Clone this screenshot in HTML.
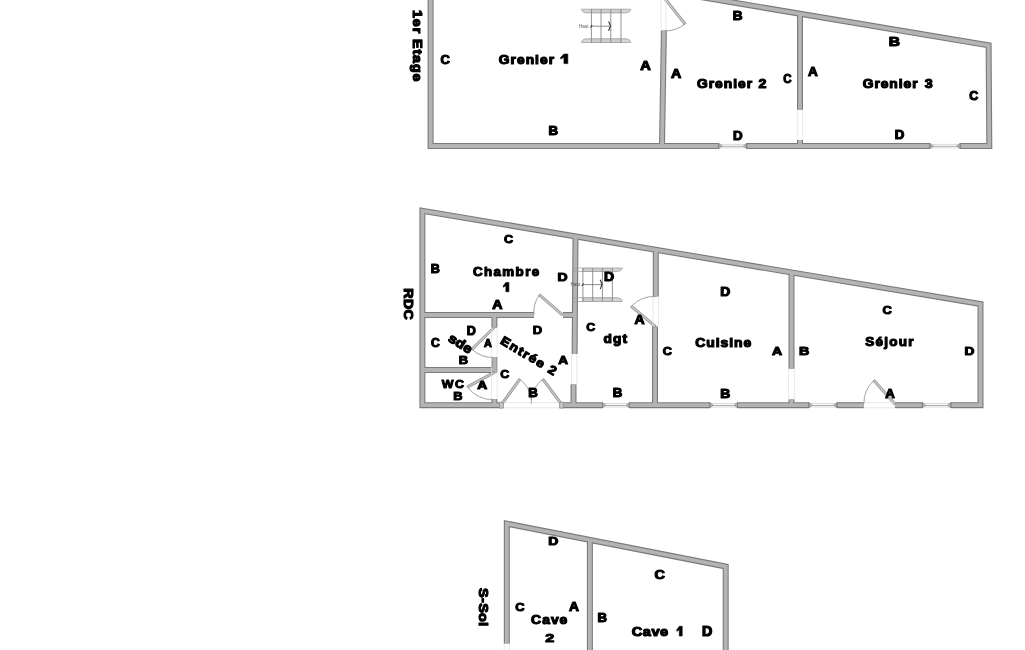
<!DOCTYPE html>
<html><head><meta charset="utf-8"><style>
html,body{margin:0;padding:0;background:#fff;width:1025px;height:650px;overflow:hidden}
svg{display:block;will-change:transform}
.wd polyline{fill:none;stroke:#7a7a7a;stroke-width:6.0;stroke-linejoin:miter;stroke-linecap:butt}
.wf polyline{fill:none;stroke:#b4b4b4;stroke-width:3.8;stroke-linejoin:miter;stroke-linecap:butt}
.lbl text{font-family:"Liberation Sans",sans-serif;font-weight:bold;font-size:100px;fill:#000;stroke:#000;stroke-width:9.0;stroke-linejoin:round}
.wl{stroke:#c8c8c8;stroke-width:0.7}
.wl2{stroke:#9a9a9a;stroke-width:0.8}
.tip{fill:#b9b9b9;stroke:#8e8e8e;stroke-width:0.8}
.capl{stroke:#7a7a7a;stroke-width:0.9}
.leaf{fill:#c4c4c4;stroke:#8a8a8a;stroke-width:0.8}
.arc{fill:none;stroke:#999;stroke-width:0.9}
.frame{stroke:#dedede;stroke-width:0.7}
.cap{fill:#c4c4c4;stroke:#8a8a8a;stroke-width:0.7}
.rail{fill:#cdcdcd;stroke:#999;stroke-width:0.8}
.flare{fill:#d6d6d6;stroke:#a0a0a0;stroke-width:0.8}
.arrow{stroke:#707070;stroke-width:0.8}
.arrowh{fill:none;stroke:#333;stroke-width:1.1}
.step{fill:none;stroke:#888;stroke-width:0.9}
.tiny{font-family:"Liberation Sans",sans-serif;font-size:4.5px;fill:#555}
</style></head><body>
<svg width="1025" height="650" viewBox="0 0 1025 650">
<rect width="1025" height="650" fill="#fff"/>
<g>
<g class="wd">
<polyline points="430.60,-10.00 430.60,146.00 718.70,146.00"/>
<polyline points="746.80,146.00 929.80,146.00"/>
<polyline points="960.20,146.00 989.30,146.00 988.60,45.40 650.00,-11.48"/>
<polyline points="663.90,30.50 662.00,146.00"/>
<polyline points="800.00,13.72 800.00,109.70"/>
<polyline points="800.00,140.00 800.00,146.00"/>
<polyline points="502.00,405.20 422.40,405.20 422.40,210.80 980.50,304.00 980.50,405.20 950.90,405.20"/>
<polyline points="922.30,405.20 894.90,405.20"/>
<polyline points="863.90,405.20 837.10,405.20"/>
<polyline points="808.80,405.20 737.50,405.20"/>
<polyline points="709.80,405.20 629.40,405.20"/>
<polyline points="602.50,405.20 561.30,405.20"/>
<polyline points="422.40,315.00 534.00,315.00"/>
<polyline points="563.00,315.00 575.50,315.00"/>
<polyline points="422.40,370.00 494.40,370.00"/>
<polyline points="494.40,315.00 494.40,327.70"/>
<polyline points="494.40,357.00 494.40,372.50"/>
<polyline points="494.40,399.00 494.40,405.20"/>
<polyline points="575.50,236.37 574.60,354.00"/>
<polyline points="573.50,384.40 573.50,405.20"/>
<polyline points="655.80,249.78 655.80,296.50"/>
<polyline points="655.00,326.50 655.00,405.20"/>
<polyline points="791.50,272.44 791.50,368.70"/>
<polyline points="791.50,399.40 791.50,405.20"/>
<polyline points="506.80,643.50 506.80,523.60 725.70,566.50 725.70,660.00"/>
<polyline points="589.90,539.89 589.90,660.00"/>
</g>
<g class="wf">
<polyline points="430.60,-10.00 430.60,146.00 718.70,146.00"/>
<polyline points="746.80,146.00 929.80,146.00"/>
<polyline points="960.20,146.00 989.30,146.00 988.60,45.40 650.00,-11.48"/>
<polyline points="663.90,30.50 662.00,146.00"/>
<polyline points="800.00,13.72 800.00,109.70"/>
<polyline points="800.00,140.00 800.00,146.00"/>
<polyline points="502.00,405.20 422.40,405.20 422.40,210.80 980.50,304.00 980.50,405.20 950.90,405.20"/>
<polyline points="922.30,405.20 894.90,405.20"/>
<polyline points="863.90,405.20 837.10,405.20"/>
<polyline points="808.80,405.20 737.50,405.20"/>
<polyline points="709.80,405.20 629.40,405.20"/>
<polyline points="602.50,405.20 561.30,405.20"/>
<polyline points="422.40,315.00 534.00,315.00"/>
<polyline points="563.00,315.00 575.50,315.00"/>
<polyline points="422.40,370.00 494.40,370.00"/>
<polyline points="494.40,315.00 494.40,327.70"/>
<polyline points="494.40,357.00 494.40,372.50"/>
<polyline points="494.40,399.00 494.40,405.20"/>
<polyline points="575.50,236.37 574.60,354.00"/>
<polyline points="573.50,384.40 573.50,405.20"/>
<polyline points="655.80,249.78 655.80,296.50"/>
<polyline points="655.00,326.50 655.00,405.20"/>
<polyline points="791.50,272.44 791.50,368.70"/>
<polyline points="791.50,399.40 791.50,405.20"/>
<polyline points="506.80,643.50 506.80,523.60 725.70,566.50 725.70,660.00"/>
<polyline points="589.90,539.89 589.90,660.00"/>
</g>
<g>
<line x1="718.7" y1="144.4" x2="746.8" y2="144.4" class="wl"/>
<line x1="718.7" y1="146.3" x2="746.8" y2="146.3" class="wl2"/>
<line x1="718.7" y1="147.8" x2="746.8" y2="147.8" class="wl"/>
<polygon points="718.7,143.4 722.1,146.0 718.7,148.6" class="tip"/>
<polygon points="746.8,143.4 743.4,146.0 746.8,148.6" class="tip"/>
<line x1="718.7" y1="143.2" x2="718.7" y2="148.8" class="capl"/><line x1="746.8" y1="143.2" x2="746.8" y2="148.8" class="capl"/>
<line x1="929.8" y1="144.4" x2="960.2" y2="144.4" class="wl"/>
<line x1="929.8" y1="146.3" x2="960.2" y2="146.3" class="wl2"/>
<line x1="929.8" y1="147.8" x2="960.2" y2="147.8" class="wl"/>
<polygon points="929.8,143.4 933.1999999999999,146.0 929.8,148.6" class="tip"/>
<polygon points="960.2,143.4 956.8000000000001,146.0 960.2,148.6" class="tip"/>
<line x1="929.8" y1="143.2" x2="929.8" y2="148.8" class="capl"/><line x1="960.2" y1="143.2" x2="960.2" y2="148.8" class="capl"/>
<line x1="602.5" y1="403.59999999999997" x2="629.4" y2="403.59999999999997" class="wl"/>
<line x1="602.5" y1="405.5" x2="629.4" y2="405.5" class="wl2"/>
<line x1="602.5" y1="407.0" x2="629.4" y2="407.0" class="wl"/>
<polygon points="602.5,402.59999999999997 605.9,405.2 602.5,407.8" class="tip"/>
<polygon points="629.4,402.59999999999997 626.0,405.2 629.4,407.8" class="tip"/>
<line x1="602.5" y1="402.4" x2="602.5" y2="408.0" class="capl"/><line x1="629.4" y1="402.4" x2="629.4" y2="408.0" class="capl"/>
<line x1="709.8" y1="403.59999999999997" x2="737.5" y2="403.59999999999997" class="wl"/>
<line x1="709.8" y1="405.5" x2="737.5" y2="405.5" class="wl2"/>
<line x1="709.8" y1="407.0" x2="737.5" y2="407.0" class="wl"/>
<polygon points="709.8,402.59999999999997 713.1999999999999,405.2 709.8,407.8" class="tip"/>
<polygon points="737.5,402.59999999999997 734.1,405.2 737.5,407.8" class="tip"/>
<line x1="709.8" y1="402.4" x2="709.8" y2="408.0" class="capl"/><line x1="737.5" y1="402.4" x2="737.5" y2="408.0" class="capl"/>
<line x1="808.8" y1="403.59999999999997" x2="837.1" y2="403.59999999999997" class="wl"/>
<line x1="808.8" y1="405.5" x2="837.1" y2="405.5" class="wl2"/>
<line x1="808.8" y1="407.0" x2="837.1" y2="407.0" class="wl"/>
<polygon points="808.8,402.59999999999997 812.1999999999999,405.2 808.8,407.8" class="tip"/>
<polygon points="837.1,402.59999999999997 833.7,405.2 837.1,407.8" class="tip"/>
<line x1="808.8" y1="402.4" x2="808.8" y2="408.0" class="capl"/><line x1="837.1" y1="402.4" x2="837.1" y2="408.0" class="capl"/>
<line x1="922.3" y1="403.59999999999997" x2="950.9" y2="403.59999999999997" class="wl"/>
<line x1="922.3" y1="405.5" x2="950.9" y2="405.5" class="wl2"/>
<line x1="922.3" y1="407.0" x2="950.9" y2="407.0" class="wl"/>
<polygon points="922.3,402.59999999999997 925.6999999999999,405.2 922.3,407.8" class="tip"/>
<polygon points="950.9,402.59999999999997 947.5,405.2 950.9,407.8" class="tip"/>
<line x1="922.3" y1="402.4" x2="922.3" y2="408.0" class="capl"/><line x1="950.9" y1="402.4" x2="950.9" y2="408.0" class="capl"/>
<polygon points="663.60,-1.29 684.10,24.71 685.90,23.29 665.40,-2.71" class="leaf"/>
<path d="M685.00,24.00 A33.00,33.00 0 0 1 664.50,31.00" class="arc"/>
<line x1="661" y1="-5" x2="661" y2="30" class="frame"/><line x1="666" y1="-5" x2="666" y2="30" class="frame"/>
<line x1="797.3" y1="110" x2="797.3" y2="140" class="frame"/><line x1="802.7" y1="110" x2="802.7" y2="140" class="frame"/>
<polygon points="563.26,314.13 540.16,293.93 538.64,295.67 561.74,315.87" class="leaf"/>
<path d="M539.40,294.80 A29.50,29.50 0 0 0 534.00,315.00" class="arc"/>
<polygon points="493.59,326.38 471.09,348.48 472.71,350.12 495.21,328.02" class="leaf"/>
<path d="M471.90,349.30 A31.00,31.00 0 0 0 494.40,357.50" class="arc"/>
<polygon points="493.85,371.29 466.95,385.99 468.05,388.01 494.95,373.31" class="leaf"/>
<path d="M467.50,387.00 A30.00,30.00 0 0 0 494.40,399.50" class="arc"/>
<line x1="491.6" y1="327" x2="491.6" y2="399" class="frame"/><line x1="497.2" y1="327" x2="497.2" y2="399" class="frame"/>
<polygon points="502.83,404.67 520.73,379.87 518.87,378.53 500.97,403.33" class="leaf"/>
<path d="M519.80,379.20 A30.00,30.00 0 0 1 531.30,399.50" class="arc"/>
<polygon points="562.22,403.31 543.82,378.51 541.98,379.89 560.38,404.69" class="leaf"/>
<path d="M542.90,379.20 A30.00,30.00 0 0 0 531.30,399.50" class="arc"/>
<line x1="531.3" y1="397" x2="531.3" y2="404" class="arc"/>
<line x1="502" y1="402.6" x2="561.3" y2="402.6" class="frame"/><line x1="502" y1="407.8" x2="561.3" y2="407.8" class="frame"/>
<polygon points="499.5,402.3 503.5,402.3 503.5,408.1 499.5,408.1" class="cap"/><polygon points="559.5,402.3 563.5,402.3 563.5,408.1 559.5,408.1" class="cap"/>
<polygon points="656.14,325.62 632.04,305.42 630.56,307.18 654.66,327.38" class="leaf"/>
<path d="M631.30,306.30 A31.50,31.50 0 0 1 655.80,296.50" class="arc"/>
<line x1="653" y1="297" x2="653" y2="326" class="frame"/><line x1="658.4" y1="297" x2="658.4" y2="326" class="frame"/>
<line x1="571.5" y1="354" x2="571.5" y2="384" class="frame"/><line x1="576.8" y1="354" x2="576.8" y2="384" class="frame"/>
<line x1="788.6" y1="369" x2="788.6" y2="399" class="frame"/><line x1="794.4" y1="369" x2="794.4" y2="399" class="frame"/>
<polygon points="895.76,403.24 874.76,379.64 873.04,381.16 894.04,404.76" class="leaf"/>
<path d="M873.90,380.40 A31.50,31.50 0 0 0 863.90,404.00" class="arc"/>
<line x1="863.9" y1="402.6" x2="894.9" y2="402.6" class="frame"/><line x1="863.9" y1="407.8" x2="894.9" y2="407.8" class="frame"/>
<line x1="504.2" y1="644" x2="504.2" y2="660" class="frame"/><line x1="509.5" y1="644" x2="509.5" y2="660" class="frame"/>
<rect x="591.4" y="9.2" width="29.600000000000023" height="3.700000000000001" class="rail"/>
<rect x="591.4" y="38.8" width="29.600000000000023" height="3.700000000000003" class="rail"/>
<path d="M621.0,9.2 L629.5,9.2 Q631.0,9.2 631.0,9.5 Q629.5,12.9 626.0,12.9 L621.0,12.9" class="flare"/>
<path d="M621.0,42.5 L629.5,42.5 Q631.0,42.5 631.0,42.2 Q629.5,38.8 626.0,38.8 L621.0,38.8" class="flare"/>
<path d="M591.4,9.2 L582.7,9.2 Q581.2,9.2 581.2,9.5 Q582.7,12.9 586.2,12.9 L591.4,12.9" class="flare"/>
<path d="M591.4,42.5 L582.7,42.5 Q581.2,42.5 581.2,42.2 Q582.7,38.8 586.2,38.8 L591.4,38.8" class="flare"/>
<line x1="591.4" y1="9.2" x2="591.4" y2="42.5" class="step"/>
<line x1="601.0" y1="9.2" x2="601.0" y2="42.5" class="step"/>
<line x1="610.8" y1="9.2" x2="610.8" y2="42.5" class="step"/>
<line x1="621.0" y1="9.2" x2="621.0" y2="42.5" class="step"/>
<line x1="591.4" y1="26.2" x2="610.8" y2="26.2" class="arrow"/>
<path d="M608.5999999999999,21.4 L610.5,25.9 L608.5999999999999,30.7" class="arrowh"/>
<line x1="590.1999999999999" y1="27.5" x2="592.1999999999999" y2="25.2" class="arrowh"/>
<text x="579.0" y="27.5" class="tiny">Haut</text>
<rect x="582.9" y="268.0" width="29.5" height="3.3999999999999773" class="rail"/>
<rect x="582.9" y="297.7" width="29.5" height="3.8000000000000114" class="rail"/>
<path d="M612.4,268.0 L621.0,268.0 Q622.5,268.0 622.5,268.3 Q621.0,271.4 617.5,271.4 L612.4,271.4" class="flare"/>
<path d="M612.4,301.5 L621.0,301.5 Q622.5,301.5 622.5,301.2 Q621.0,297.7 617.5,297.7 L612.4,297.7" class="flare"/>
<path d="M582.9,268.0 L573.5,268.0 M582.9,271.4 L573.5,271.4 M582.9,297.7 L573.5,297.7 M582.9,301.5 L573.5,301.5" class="flare"/>
<line x1="582.9" y1="268.0" x2="582.9" y2="301.5" class="step"/>
<line x1="592.7" y1="268.0" x2="592.7" y2="301.5" class="step"/>
<line x1="602.4" y1="268.0" x2="602.4" y2="301.5" class="step"/>
<line x1="612.4" y1="268.0" x2="612.4" y2="301.5" class="step"/>
<line x1="582.9" y1="284.6" x2="602.4" y2="284.6" class="arrow"/>
<path d="M600.1999999999999,279.8 L602.1,284.3 L600.1999999999999,289.1" class="arrowh"/>
<line x1="581.6999999999999" y1="285.90000000000003" x2="583.6999999999999" y2="283.6" class="arrowh"/>
<text x="570.5" y="285.90000000000003" class="tiny">Haut</text>
</g>
<g class="lbl">
<text transform="matrix(0.12973 0 0 0.12152 440.600 63.692)">C</text>
<text transform="matrix(0.13795 0 0 0.12317 498.800 63.784)" style="letter-spacing:7.46px">Grenier</text>
<text transform="matrix(0.14605 0 0 0.13077 640.292 70.177)">A</text>
<text transform="matrix(0.13286 0 0 0.12597 548.434 135.496)">B</text>
<text transform="matrix(0.14211 0 0 0.12308 670.984 78.408)">A</text>
<text transform="matrix(0.13571 0 0 0.12208 732.729 19.912)">B</text>
<text transform="matrix(0.13795 0 0 0.12317 697.000 88.284)" style="letter-spacing:7.22px">Grenier</text>
<text transform="matrix(0.14211 0 0 0.12949 758.442 88.382)">2</text>
<text transform="matrix(0.11486 0 0 0.12911 783.200 83.454)">C</text>
<text transform="matrix(0.13286 0 0 0.12468 732.934 139.701)">D</text>
<text transform="matrix(0.13553 0 0 0.13077 807.971 75.777)">A</text>
<text transform="matrix(0.15571 0 0 0.11948 888.689 46.122)">B</text>
<text transform="matrix(0.13795 0 0 0.12317 862.700 88.284)" style="letter-spacing:6.98px">Grenier</text>
<text transform="matrix(0.14310 0 0 0.12785 924.686 88.261)">3</text>
<text transform="matrix(0.12432 0 0 0.13038 969.200 99.548)">C</text>
<text transform="matrix(0.13286 0 0 0.12468 894.834 139.301)">D</text>
<text transform="matrix(0.12568 0 0 0.11392 504.000 242.930)">C</text>
<text transform="matrix(0.12571 0 0 0.11948 430.749 272.622)">B</text>
<text transform="matrix(0.13385 0 0 0.11951 472.900 276.002)" style="letter-spacing:10.34px">Chambre</text>
<text transform="matrix(0.14000 0 0 0.11429 557.520 280.643)">D</text>
<text transform="matrix(0.14211 0 0 0.12179 492.284 309.213)">A</text>
<text transform="matrix(0.12162 0 0 0.11899 430.900 346.605)">C</text>
<text transform="matrix(0.12571 0 0 0.12338 466.849 335.006)">D</text>
<text transform="matrix(0.12857 0 0 0.11429 458.743 363.643)">B</text>
<text transform="matrix(0.10921 0 0 0.11795 483.918 346.528)">A</text>
<text transform="matrix(0.12476 0 0 0.11139 441.699 387.743)" style="letter-spacing:12.35px">WC</text>
<text transform="matrix(0.12857 0 0 0.11688 453.243 399.532)">B</text>
<text transform="matrix(0.13816 0 0 0.11282 477.276 388.849)">A</text>
<text transform="matrix(0.12432 0 0 0.10759 500.200 378.462)">C</text>
<text transform="matrix(0.13000 0 0 0.11818 532.640 334.127)">D</text>
<text transform="matrix(0.13553 0 0 0.11795 558.171 363.628)">A</text>
<text transform="matrix(0.13286 0 0 0.11948 528.134 396.522)">B</text>
<text transform="matrix(0.14000 0 0 0.12078 603.920 281.017)">D</text>
<text transform="matrix(0.13947 0 0 0.13590 634.479 323.556)">A</text>
<text transform="matrix(0.12432 0 0 0.10253 586.200 330.787)">C</text>
<text transform="matrix(0.13725 0 0 0.12255 603.500 343.236)" style="letter-spacing:7.93px">dgt</text>
<text transform="matrix(0.13286 0 0 0.12468 612.734 396.701)">B</text>
<text transform="matrix(0.13857 0 0 0.12208 720.223 295.712)">D</text>
<text transform="matrix(0.13932 0 0 0.12439 695.200 346.978)" style="letter-spacing:7.02px">Cuisine</text>
<text transform="matrix(0.12703 0 0 0.11266 662.700 355.137)">C</text>
<text transform="matrix(0.14079 0 0 0.11410 771.982 355.244)">A</text>
<text transform="matrix(0.14286 0 0 0.11558 799.114 355.238)">B</text>
<text transform="matrix(0.13857 0 0 0.12208 720.223 398.312)">B</text>
<text transform="matrix(0.12838 0 0 0.11519 882.500 314.324)">C</text>
<text transform="matrix(0.13483 0 0 0.12039 865.370 346.190)" style="letter-spacing:9.33px">Séjour</text>
<text transform="matrix(0.13714 0 0 0.11169 964.426 354.953)">D</text>
<text transform="matrix(0.13158 0 0 0.12308 885.163 398.308)">A</text>
<text transform="matrix(0.14000 0 0 0.11688 548.220 544.832)">D</text>
<text transform="matrix(0.12838 0 0 0.11646 515.300 611.318)">C</text>
<text transform="matrix(0.13816 0 0 0.13462 569.076 611.362)">A</text>
<text transform="matrix(0.13894 0 0 0.12405 531.100 623.680)" style="letter-spacing:7.33px">Cave</text>
<text transform="matrix(0.16140 0 0 0.11795 545.261 641.728)">2</text>
<text transform="matrix(0.13143 0 0 0.12078 597.537 622.017)">B</text>
<text transform="matrix(0.14324 0 0 0.12278 654.400 578.886)">C</text>
<text transform="matrix(0.14603 0 0 0.13038 631.700 636.148)" style="letter-spacing:3.55px">Cave</text>
<text transform="matrix(0.14286 0 0 0.13766 702.114 636.449)">D</text>
<text transform="matrix(0 0.14286 -0.12755 0 412.989 9.914)" style="letter-spacing:6.44px">1er Etage</text>
<text transform="matrix(0 0.14177 -0.12658 0 404.433 288.216)" style="letter-spacing:3.09px">RDC</text>
<text transform="matrix(0 0.14341 -0.12805 0 478.540 587.987)" style="letter-spacing:2.84px">S-Sol</text>
<text transform="translate(529.0 355.6) rotate(31.0) translate(-31.775 4.486) scale(0.13764 0.12289)" style="letter-spacing:9.25px">Entrée 2</text>
<text transform="translate(460.6 343.2) rotate(32.0) translate(-12.852 4.741) scale(0.14751 0.13171)" style="letter-spacing:1.13px">sde</text>
<polygon points="563.93,54.10 567.80,54.10 567.80,63.60 563.93,63.60 563.93,57.23 560.79,59.04 560.50,57.61" fill="#000" stroke="#000" stroke-width="0.6" stroke-linejoin="round"/>
<polygon points="505.88,282.50 508.90,282.50 508.90,291.70 505.88,291.70 505.88,285.54 503.43,287.28 503.20,285.90" fill="#000" stroke="#000" stroke-width="0.6" stroke-linejoin="round"/>
<polygon points="679.28,626.30 682.20,626.30 682.20,636.00 679.28,636.00 679.28,629.50 676.92,631.34 676.70,629.89" fill="#000" stroke="#000" stroke-width="0.6" stroke-linejoin="round"/>
</g>
</g>
</svg>
</body></html>
